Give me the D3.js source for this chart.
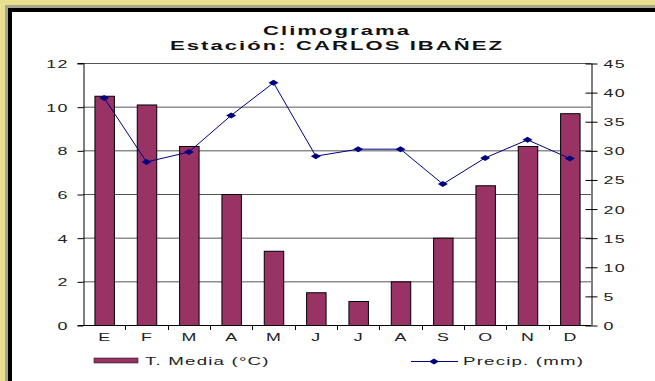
<!DOCTYPE html>
<html><head><meta charset="utf-8">
<script src="https://cdn.jsdelivr.net/npm/d3@7"></script>
<style>
html,body{margin:0;padding:0;background:#fff;}
svg{display:block;font-family:"Liberation Sans",Arial,sans-serif;}
</style></head>
<body><svg id="c" width="655" height="381"></svg>
<script>
const months = ["E","F","M","A","M","J","J","A","S","O","N","D"];
const tempMedia = [10.5,10.1,8.2,6.0,3.4,1.5,1.1,2.0,4.0,6.4,8.2,9.7];
const precip = [39,28,29.7,36,41.6,29,30.2,30.2,24.2,28.7,31.8,28.6];
const leftTicks = [0,2,4,6,8,10,12];
const rightTicks = [0,5,10,15,20,25,30,35,40,45];
const titleLines = ["Climograma","Estación: CARLOS IBAÑEZ"];
const legendLabels = ["T. Media (°C)","Precip. (mm)"];

const SX = 1.7;   // horizontal stretch of the original bitmap text
const svg = d3.select("#c");
// frame
svg.append("rect").attr("x",0).attr("y",0).attr("width",655).attr("height",381).attr("fill","#e8e08e");
svg.append("rect").attr("x",5).attr("y",5).attr("width",660).attr("height",390).attr("fill","#a9a58c");
svg.append("rect").attr("x",8).attr("y",8).attr("width",660).attr("height",390).attr("fill","#000");
svg.append("rect").attr("x",12).attr("y",12).attr("width",660).attr("height",390).attr("fill","#fff");

const L=83, R=591, T=63, B=325;
const x = d3.scaleBand().domain(d3.range(months.length)).range([L,R]).paddingInner(0.54).paddingOuter(0.27);
const xc = d3.scaleBand().domain(d3.range(months.length)).range([L,R]);
const yL = d3.scaleLinear().domain([0,12]).range([B,T]);
const yR = d3.scaleLinear().domain([0,45]).range([B,T]);

// stretch helper: place text at (px,py) in parent coords, with horizontal stretch
function stretch(sel, px, py, anchor){
  sel.each(function(){
    const t = d3.select(this);
    const ls = parseFloat(t.attr("letter-spacing")||0);
    let dx = 0;
    if(anchor==="middle") dx = ls/2; else if(anchor==="end") dx = ls;
    t.attr("text-anchor",anchor).attr("x",0).attr("y",0).attr("dy",null)
     .attr("transform",`translate(${px+dx*SX},${py}) scale(${SX},1)`);
  });
}

// gridlines
svg.append("g").selectAll("line").data(leftTicks.filter(d=>d>0)).join("line")
  .attr("x1",L).attr("x2",R).attr("y1",d=>yL(d)+0.5).attr("y2",d=>yL(d)+0.5)
  .attr("stroke","#555").attr("stroke-width",1);

// bars
svg.append("g").selectAll("rect").data(tempMedia).join("rect")
  .attr("x",(d,i)=>x(i)+0.5).attr("width",x.bandwidth()).attr("y",d=>yL(d)+0.5).attr("height",d=>B-yL(d))
  .attr("fill","#993366").attr("stroke","#000").attr("stroke-width",1);

const tickText = g=>g.selectAll("text").attr("font-size","10.5px").attr("fill","#222").attr("letter-spacing","0.8px").attr("font-family","'Liberation Sans',Arial,sans-serif");

// left axis
const gl = svg.append("g").attr("transform",`translate(${L+0.5},0)`)
  .call(d3.axisLeft(yL).tickValues(leftTicks).tickSize(6).tickPadding(5).tickFormat(d3.format("d")));
gl.select(".domain").attr("stroke","#000");
gl.selectAll(".tick line").attr("stroke","#000").attr("transform","translate(0,0.5)");
gl.call(tickText);
gl.selectAll(".tick text").call(stretch,-16,4.5,"end");

// right axis
const gr = svg.append("g").attr("transform",`translate(${R+0.5},0)`)
  .call(d3.axisRight(yR).tickValues(rightTicks).tickSizeInner(6).tickSizeOuter(0).tickPadding(6).tickFormat(d3.format("d")));
gr.select(".domain").attr("stroke","#000");
gr.selectAll(".tick line").attr("stroke","#000").attr("x1",-6).attr("transform","translate(0,0.5)");
gr.call(tickText);
gr.selectAll(".tick text").call(stretch,12,4.5,"start");

// x axis
const gx = svg.append("g").attr("transform",`translate(0,${B+0.5})`)
  .call(d3.axisBottom(xc).tickSize(0).tickPadding(9).tickFormat(i=>months[i]));
gx.select(".domain").attr("stroke","#000").attr("d",`M${L},0H${R}`);
gx.call(tickText);
gx.selectAll(".tick text").call(stretch,0,15.5,"middle");
svg.append("g").selectAll("line").data(d3.range(1,months.length)).join("line")
  .attr("x1",i=>Math.round(xc(i))+0.5).attr("x2",i=>Math.round(xc(i))+0.5).attr("y1",B).attr("y2",B+5)
  .attr("stroke","#000");

// precip line
const line = d3.line().x((d,i)=>xc(i)+xc.bandwidth()/2).y(d=>yR(d));
svg.append("path").datum(precip).attr("d",line).attr("fill","none").attr("stroke","#000080").attr("stroke-width",1);
const diamond = (cx,cy)=>`M${cx-5},${cy}L${cx},${cy-3}L${cx+5},${cy}L${cx},${cy+3}Z`;
svg.append("g").selectAll("path").data(precip).join("path")
  .attr("d",(d,i)=>diamond(xc(i)+xc.bandwidth()/2,yR(d))).attr("fill","#000080");

// title
const tg = svg.append("g");
titleLines.forEach((s,i)=>{
  tg.append("text").attr("font-size","13px").attr("font-weight","bold").attr("letter-spacing","1.2px")
    .attr("fill","#111").text(s).call(stretch,336,34.5+i*15,"middle");
});

// legend
const ly = 361;
svg.append("rect").attr("x",94).attr("y",ly-3).attr("width",44).attr("height",5).attr("fill","#993366").attr("stroke","#000").attr("stroke-width",0.5);
svg.append("text").attr("font-size","11px").attr("letter-spacing","0.7px").attr("fill","#222").text(legendLabels[0]).call(stretch,145,ly+4,"start");
svg.append("line").attr("x1",411).attr("x2",458).attr("y1",ly+0.5).attr("y2",ly+0.5).attr("stroke","#000080");
svg.append("path").attr("d",diamond(434,ly+0.5)).attr("fill","#000080");
svg.append("text").attr("font-size","11px").attr("letter-spacing","0.7px").attr("fill","#222").text(legendLabels[1]).call(stretch,463,ly+4,"start");
</script></body></html>
